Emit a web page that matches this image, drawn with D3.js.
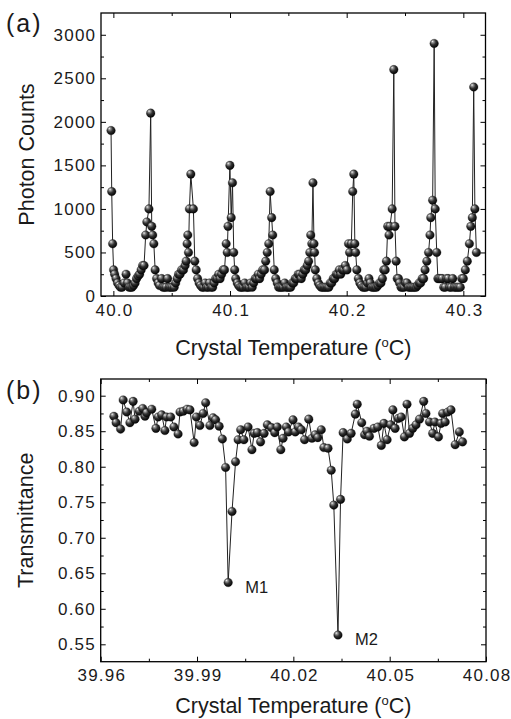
<!DOCTYPE html>
<html>
<head>
<meta charset="utf-8">
<script src="https://cdn.jsdelivr.net/npm/d3@7"></script>
<style>
body { margin: 0; background: #fff; }
svg text { font-family: "Liberation Sans", Arial, sans-serif; fill: #1a1a1a; }
.tick text { font-size: 17px; letter-spacing: 1.2px; }
.title { font-size: 21.5px; }
.plabel { font-size: 25px; letter-spacing: 2px; }
.mlabel { font-size: 16.5px; }
</style>
</head>
<body>
<svg id="fig" width="511" height="719"></svg>
<script>
// panel (a): photon counts vs crystal temperature
var tempA = [
	39.9980, 39.9986, 39.9994, 40.0002, 40.0011, 40.0023, 40.0036, 40.0049, 40.0062, 40.0075,
	40.0092, 40.0109, 40.0122, 40.0135, 40.0148, 40.0160, 40.0173, 40.0186, 40.0199, 40.0212,
	40.0225, 40.0238, 40.0251, 40.0263, 40.0277, 40.0287, 40.0305, 40.0320, 40.0329, 40.0337,
	40.0347, 40.0358,
	40.0371, 40.0384, 40.0396, 40.0414, 40.0426, 40.0439, 40.0452, 40.0465, 40.0478, 40.0491,
	40.0504, 40.0521, 40.0534, 40.0547, 40.0559, 40.0572, 40.0585, 40.0601, 40.0615, 40.0624,
	40.0632, 40.0638, 40.0644, 40.0652, 40.0664, 40.0686, 40.0698, 40.0710, 40.0722,
	40.0735, 40.0748, 40.0761, 40.0774, 40.0787, 40.0800, 40.0813, 40.0825, 40.0838, 40.0851,
	40.0864, 40.0877, 40.0890, 40.0903, 40.0915, 40.0928, 40.0941, 40.0953, 40.0967, 40.0976,
	40.0983, 40.0999, 40.1010, 40.1021, 40.1032, 40.1040, 40.1049,
	40.1062, 40.1074, 40.1087, 40.1100, 40.1113, 40.1126, 40.1139, 40.1151, 40.1164, 40.1177,
	40.1190, 40.1203, 40.1216, 40.1229, 40.1242, 40.1254, 40.1267, 40.1280, 40.1296, 40.1306,
	40.1319, 40.1332, 40.1344, 40.1357, 40.1366, 40.1379, 40.1392,
	40.1405, 40.1417, 40.1430, 40.1443, 40.1456, 40.1469, 40.1482, 40.1495, 40.1508, 40.1520,
	40.1533, 40.1546, 40.1559, 40.1572, 40.1585, 40.1598, 40.1611, 40.1624, 40.1636, 40.1649,
	40.1662, 40.1674, 40.1684, 40.1692, 40.1701, 40.1711, 40.1720, 40.1725, 40.1731, 40.1744,
	40.1757, 40.1769, 40.1782, 40.1795, 40.1808, 40.1821, 40.1834, 40.1847, 40.1859, 40.1872,
	40.1885, 40.1898, 40.1911, 40.1924, 40.1937, 40.1949, 40.1962, 40.1975, 40.1988, 40.2003,
	40.2016, 40.2025, 40.2040, 40.2052, 40.2061, 40.2070, 40.2077, 40.2087, 40.2100,
	40.2113, 40.2126, 40.2139, 40.2152, 40.2165, 40.2178, 40.2191, 40.2203, 40.2216, 40.2229,
	40.2242, 40.2255, 40.2268, 40.2281, 40.2294, 40.2307, 40.2318, 40.2330, 40.2341, 40.2352,
	40.2363, 40.2371, 40.2390, 40.2404, 40.2414, 40.2424, 40.2433, 40.2444,
	40.2453, 40.2466, 40.2479, 40.2492, 40.2505, 40.2517, 40.2530, 40.2543, 40.2556, 40.2569,
	40.2582, 40.2595, 40.2608, 40.2621, 40.2634, 40.2647, 40.2660, 40.2672, 40.2687, 40.2702,
	40.2714, 40.2721, 40.2737, 40.2750, 40.2759, 40.2772, 40.2782,
	40.2793, 40.2806, 40.2819, 40.2832, 40.2845, 40.2858, 40.2870, 40.2883, 40.2896, 40.2909,
	40.2922, 40.2935, 40.2948, 40.2961, 40.2974, 40.2987, 40.3000, 40.3017, 40.3034, 40.3052,
	40.3064, 40.3077, 40.3089, 40.3099, 40.3112
];
var countsA = [
	1900, 1200, 600, 300, 250, 200, 150, 120, 100, 100,
	150, 250, 150, 100, 100, 100, 120, 150, 200, 230,
	250, 300, 350, 350, 700, 850, 1000, 2100, 800, 700,
	600, 300,
	200, 150, 120, 200, 100, 100, 100, 200, 100, 100,
	100, 100, 150, 200, 250, 250, 300, 300, 350, 400,
	600, 700, 500, 1000, 1400, 1000, 400, 300, 200,
	150, 120, 100, 100, 150, 100, 100, 150, 100, 100,
	150, 200, 200, 250, 200, 250, 300, 300, 600, 500,
	800, 1500, 900, 1300, 500, 300, 200,
	150, 120, 100, 100, 100, 150, 100, 100, 100, 150,
	100, 150, 200, 200, 250, 200, 250, 300, 300, 400,
	500, 600, 1200, 900, 700, 300, 200,
	150, 100, 100, 100, 100, 150, 100, 100, 100, 100,
	150, 150, 200, 200, 250, 250, 200, 250, 300, 300,
	350, 400, 500, 700, 600, 1300, 600, 500, 300, 200,
	150, 120, 100, 100, 100, 100, 100, 100, 150, 150,
	200, 200, 250, 250, 300, 250, 300, 300, 350, 300,
	600, 500, 600, 1200, 1400, 600, 500, 300, 200,
	150, 120, 100, 100, 100, 150, 200, 150, 100, 100,
	100, 100, 120, 150, 150, 200, 300, 300, 400, 800,
	700, 800, 1000, 2600, 800, 400, 200, 200,
	150, 100, 100, 100, 150, 150, 100, 100, 100, 100,
	100, 100, 120, 150, 150, 200, 200, 300, 400, 500,
	700, 900, 1100, 2900, 1000, 500, 200,
	200, 200, 200, 100, 100, 200, 200, 100, 100, 200,
	100, 100, 100, 100, 100, 200, 200, 300, 400, 600,
	800, 900, 2400, 1000, 500
];

// panel (b): transmittance vs crystal temperature
var tempB = [
	39.9641, 39.9648, 39.9662, 39.9670, 39.9681, 39.9691, 39.9701, 39.9707, 39.9720, 39.9731,
	39.9738, 39.9743, 39.9759, 39.9772, 39.9779, 39.9790, 39.9800, 39.9805, 39.9818, 39.9828,
	39.9841, 39.9847, 39.9857, 39.9869, 39.9878, 39.9891, 39.9898, 39.9909, 39.9919, 39.9927,
	39.9940, 39.9950, 39.9958, 39.9969, 39.9979, 39.9989, 39.9997, 40.0009, 40.0020, 40.0028,
	40.0036, 40.0046, 40.0059, 40.0071, 40.0078, 40.0088, 40.0098, 40.0109, 40.0119, 40.0132,
	40.0142, 40.0150, 40.0161, 40.0168, 40.0178, 40.0185, 40.0199, 40.0206, 40.0216, 40.0225,
	40.0235, 40.0248, 40.0258, 40.0268, 40.0276, 40.0287, 40.0295, 40.0308, 40.0318, 40.0326,
	40.0339, 40.0347, 40.0355, 40.0368, 40.0380, 40.0393, 40.0399, 40.0413, 40.0422, 40.0429,
	40.0437, 40.0451, 40.0463, 40.0474, 40.0482, 40.0492, 40.0503, 40.0510, 40.0517, 40.0527,
	40.0536, 40.0546, 40.0554, 40.0562, 40.0572, 40.0582, 40.0593, 40.0606, 40.0613, 40.0624,
	40.0634, 40.0641, 40.0652, 40.0660, 40.0665, 40.0673, 40.0681, 40.0691, 40.0704, 40.0717,
	40.0727
];
var transB = [
	0.871, 0.862, 0.853, 0.894, 0.877, 0.862, 0.892, 0.867, 0.878, 0.882,
	0.871, 0.876, 0.881, 0.854, 0.870, 0.873, 0.851, 0.870, 0.870, 0.856,
	0.846, 0.877, 0.878, 0.881, 0.880, 0.834, 0.870, 0.858, 0.875, 0.890,
	0.858, 0.869, 0.866, 0.857, 0.839, 0.799, 0.637, 0.737, 0.807, 0.838,
	0.852, 0.838, 0.856, 0.824, 0.847, 0.848, 0.835, 0.847, 0.859, 0.855,
	0.848, 0.856, 0.824, 0.840, 0.856, 0.849, 0.866, 0.849, 0.856, 0.852,
	0.838, 0.867, 0.840, 0.845, 0.841, 0.852, 0.827, 0.826, 0.795, 0.746,
	0.563, 0.754, 0.848, 0.839, 0.847, 0.874, 0.888, 0.862, 0.845, 0.850,
	0.843, 0.854, 0.856, 0.830, 0.861, 0.838, 0.859, 0.880, 0.854, 0.868,
	0.870, 0.842, 0.888, 0.847, 0.854, 0.859, 0.867, 0.892, 0.875, 0.863,
	0.847, 0.863, 0.842, 0.861, 0.875, 0.863, 0.877, 0.880, 0.831, 0.849,
	0.835
];

var ticksAX = [40.0, 40.1, 40.2, 40.3];
var minorAX = [40.05, 40.15, 40.25];
var ticksAY = [0, 500, 1000, 1500, 2000, 2500, 3000];
var minorAY = [250, 750, 1250, 1750, 2250, 2750];
var ticksBX = [39.96, 39.99, 40.02, 40.05, 40.08];
var minorBX = [39.975, 40.005, 40.035, 40.065];
var ticksBY = [0.55, 0.60, 0.65, 0.70, 0.75, 0.80, 0.85, 0.90];
var minorBY = [0.575, 0.625, 0.675, 0.725, 0.775, 0.825, 0.875];
var dipLabels = ["M1", "M2"];

var figure = {
	svg: null,

	init: function() {
		this.svg = d3.select("#fig");
		this.defs();

		this.panel({
			left: 101, right: 485.5, top: 13, bottom: 296,
			xDomain: [39.9894, 40.319], yDomain: [0, 3250],
			xTicks: ticksAX, xMinor: minorAX, yTicks: ticksAY, yMinor: minorAY,
			xFmt: d3.format(".1f"), yFmt: d3.format("d"),
			xs: tempA, ys: countsA,
			yTitle: "Photon Counts", xTitleY: 355, yTitleX: 34,
			label: "(a)", labelY: 32
		});

		var b = this.panel({
			left: 100.7, right: 486, top: 379, bottom: 661.7,
			xDomain: [39.96, 40.08], yDomain: [0.5255, 0.9235],
			xTicks: ticksBX, xMinor: minorBX, yTicks: ticksBY, yMinor: minorBY,
			xFmt: d3.format(".2f"), yFmt: d3.format(".2f"),
			xs: tempB, ys: transB,
			yTitle: "Transmittance", xTitleY: 713, yTitleX: 33,
			label: "(b)", labelY: 399
		});

		// M1 / M2 next to the two deepest points
		var self = this;
		var dips = [36, 70];
		dips.forEach(function(idx, i) {
			self.svg.append("text")
				.attr("class", "mlabel")
				.attr("x", b.x(tempB[idx]) + 17)
				.attr("y", b.y(transB[idx]) + 10)
				.text(dipLabels[i]);
		});
	},

	defs: function() {
		var grad = this.svg.append("defs").append("radialGradient")
			.attr("id", "ball")
			.attr("cx", "0.4").attr("cy", "0.36").attr("r", "0.62")
			.attr("fx", "0.3").attr("fy", "0.26");
		grad.append("stop").attr("offset", "0").attr("stop-color", "#f4f4f4");
		grad.append("stop").attr("offset", "0.2").attr("stop-color", "#9a9a9a");
		grad.append("stop").attr("offset", "0.55").attr("stop-color", "#333");
		grad.append("stop").attr("offset", "1").attr("stop-color", "#050505");
	},

	// makeAxis returns a fresh d3 axis each call (minor + major pass)
	axis: function(g, makeAxis, pos, major, minor, fmt) {
		g.append("g")
			.attr("transform", pos)
			.call(makeAxis().tickValues(minor).tickSize(-3).tickSizeOuter(0).tickFormat(""))
			.call(function(s) { s.select(".domain").remove(); });
		var m = g.append("g")
			.attr("transform", pos)
			.call(makeAxis().tickValues(major).tickSize(-5).tickSizeOuter(0).tickFormat(fmt || ""))
			.call(function(s) { s.select(".domain").remove(); });
		g.selectAll(".tick line").attr("stroke", "#000").attr("stroke-width", 1);
		return m;
	},

	panel: function(p) {
		var g = this.svg.append("g");
		var x = d3.scaleLinear().domain(p.xDomain).range([p.left, p.right]);
		var y = d3.scaleLinear().domain(p.yDomain).range([p.bottom, p.top]);

		var bottom = this.axis(g, function() { return d3.axisBottom(x).tickPadding(7.5); },
			"translate(0," + p.bottom + ")", p.xTicks, p.xMinor, p.xFmt);
		bottom.selectAll("text").attr("dx", "0.6px");
		this.axis(g, function() { return d3.axisTop(x); },
			"translate(0," + p.top + ")", p.xTicks, p.xMinor, null);
		this.axis(g, function() { return d3.axisLeft(y).tickPadding(4.8); },
			"translate(" + p.left + ",0)", p.yTicks, p.yMinor, p.yFmt);
		this.axis(g, function() { return d3.axisRight(y); },
			"translate(" + p.right + ",0)", p.yTicks, p.yMinor, null);
		g.selectAll(".tick text").attr("fill", "#1a1a1a");

		g.append("rect")
			.attr("x", p.left).attr("y", p.top)
			.attr("width", p.right - p.left).attr("height", p.bottom - p.top)
			.attr("fill", "none").attr("stroke", "#000").attr("stroke-width", 1.3);

		var pts = p.xs.map(function(t, i) { return [t, p.ys[i]]; });

		g.append("path")
			.datum(pts)
			.attr("fill", "none")
			.attr("stroke", "#222")
			.attr("stroke-width", 1)
			.attr("d", d3.line().x(function(d) { return x(d[0]); }).y(function(d) { return y(d[1]); }));

		g.selectAll("circle.pt")
			.data(pts)
			.enter()
			.append("circle")
			.attr("class", "pt")
			.attr("cx", function(d) { return x(d[0]); })
			.attr("cy", function(d) { return y(d[1]); })
			.attr("r", 4.3)
			.attr("fill", "url(#ball)")
			.attr("stroke", "#111")
			.attr("stroke-width", 0.3);

		// axis titles
		var xt = g.append("text")
			.attr("class", "title")
			.attr("text-anchor", "middle")
			.attr("x", (p.left + p.right) / 2)
			.attr("y", p.xTitleY);
		xt.append("tspan").text("Crystal Temperature (");
		xt.append("tspan").attr("font-size", "13px").attr("dy", "-8").text("o");
		xt.append("tspan").attr("dy", "8").text("C)");

		g.append("text")
			.attr("class", "title")
			.attr("text-anchor", "middle")
			.attr("transform", "translate(" + p.yTitleX + "," + (p.top + p.bottom) / 2 + ") rotate(-90)")
			.text(p.yTitle);

		g.append("text")
			.attr("class", "plabel")
			.attr("x", 6)
			.attr("y", p.labelY)
			.text(p.label);

		return { x: x, y: y };
	}
};

figure.init();
</script>
</body>
</html>
